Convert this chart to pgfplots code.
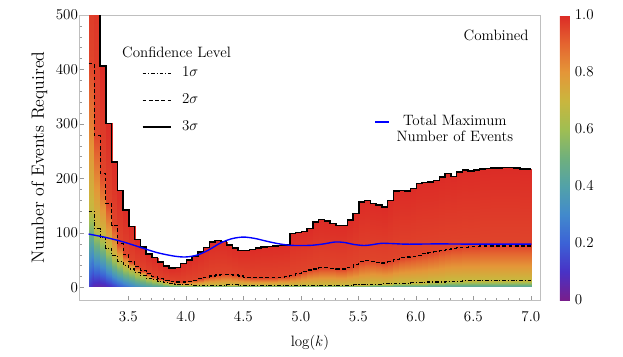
\documentclass[border=0pt]{standalone}
\usepackage{fontspec}
\usepackage{pgfplots}
\usepackage{pgfplotstable}
\pgfplotsset{compat=1.18}
\pgfplotsset{colormap={mrain}{rgb255=(120,30,140) rgb255=(72,50,198) rgb255=(60,98,214) rgb255=(66,138,204) rgb255=(82,162,168) rgb255=(112,176,124) rgb255=(160,190,82) rgb255=(202,182,62) rgb255=(228,150,56) rgb255=(228,100,48) rgb255=(220,42,38)}}

% bins of width 0.05 in log(k): left edge, 1sigma, 2sigma, 3sigma levels, colour value at the bottom
\pgfplotstableread{
xl s1 s2 s3 c0
3.155 140 411 700 0.12
3.205 108 279 700 0.05
3.255 92 209 406 0.04
3.305 72 154 301 0.06
3.355 58 114 230 0.10
3.405 48 80 178 0.15
3.455 40 60 142 0.20
3.505 34 47 112 0.25
3.555 27 38 88 0.30
3.605 22 31 74 0.33
3.655 17 25 61 0.36
3.705 14 20 55 0.38
3.755 11 16 47 0.40
3.805 9 13 39 0.40
3.855 7 11 36 0.40
3.905 6 10 37 0.40
3.955 5 10 44 0.40
4.005 5 11 50 0.40
4.055 4 13 57 0.40
4.105 4 16 65 0.40
4.155 4 19 73 0.40
4.205 4 21 83 0.40
4.255 4 23 86 0.40
4.305 4 24 84 0.40
4.355 5 24 78 0.40
4.405 5 23 72 0.40
4.455 4 21 68 0.40
4.505 4 19 68 0.40
4.555 4 18 70 0.40
4.605 4 18 72 0.40
4.655 4 18 74 0.40
4.705 4 18 75 0.40
4.755 4 18 76 0.40
4.805 4 19 77 0.40
4.855 4 20 78 0.40
4.905 4 22 99 0.40
4.955 4 25 101 0.40
5.005 4 29 103 0.40
5.055 4 32 108 0.40
5.105 4 34 120 0.40
5.155 4 36 125 0.40
5.205 4 36 122 0.40
5.255 4 35 117 0.40
5.305 4 34 114 0.40
5.355 4 34 114 0.40
5.405 4 37 124 0.40
5.455 5 42 136 0.40
5.505 5 47 157 0.40
5.555 5 49 160 0.40
5.605 6 48 154 0.40
5.655 6 46 151 0.40
5.705 7 45 148 0.40
5.755 7 47 160 0.40
5.805 8 51 177 0.40
5.855 8 55 178 0.40
5.905 8 56 177 0.40
5.955 9 57 182 0.40
6.005 9 59 191 0.40
6.055 9 62 193 0.40
6.105 10 64 194 0.40
6.155 10 66 196 0.40
6.205 10 68 203 0.40
6.255 11 70 209 0.40
6.305 11 72 204 0.40
6.355 11 73 212 0.40
6.405 12 74 216 0.40
6.455 12 75 214 0.40
6.505 12 75 216 0.40
6.555 12 76 217 0.40
6.605 12 76 218 0.40
6.655 12 76 219 0.40
6.705 12 76 219 0.40
6.755 12 76 220 0.40
6.805 12 76 220 0.40
6.855 12 76 219 0.40
6.905 12 76 217 0.40
6.955 12 76 217 0.40
7.005 12 76 217 0.40
}\bins

% mesh for the coloured confidence map, built from the bins
\gdef\meshdata{}
\pgfplotsforeachungrouped \i in {0,...,76}{%
  \pgfmathtruncatemacro\ip{\i+1}%
  \pgfplotstablegetelem{\i}{xl}\of\bins\let\xa\pgfplotsretval
  \pgfplotstablegetelem{\ip}{xl}\of\bins\let\xb\pgfplotsretval
  \pgfplotstablegetelem{\i}{s1}\of\bins\let\sa\pgfplotsretval
  \pgfplotstablegetelem{\i}{s2}\of\bins\let\sb\pgfplotsretval
  \pgfplotstablegetelem{\i}{s3}\of\bins\let\sc\pgfplotsretval
  \pgfplotstablegetelem{\i}{c0}\of\bins\let\ca\pgfplotsretval
  \pgfplotstablegetelem{\ip}{c0}\of\bins\let\cb\pgfplotsretval
  \xdef\meshdata{\meshdata (\xa,1) [\ca] (\xa,\sa) [0.683] (\xa,\sb) [0.954] (\xa,\sc) [0.997] (\xb,1) [\cb] (\xb,\sa) [0.683] (\xb,\sb) [0.954] (\xb,\sc) [0.997] }%
}

\begin{document}
\begin{tikzpicture}[font=\fontsize{12}{14}\selectfont]
\path[use as bounding box] (-63.44pt,-44.8pt) rectangle (434.96pt,240pt);
\begin{axis}[
  scale only axis, width=369pt, height=228pt,
  xmin=3.074, xmax=7.084, ymin=-23, ymax=500,
  xtick={3.5,4,4.5,5,5.5,6,6.5,7},
  xticklabels={3.5,4.0,4.5,5.0,5.5,6.0,6.5,7.0},
  ytick={0,100,200,300,400,500},
  minor x tick num=4, minor y tick num=4,
  tick align=inside, tick pos=left,
  major tick length=3.5pt, minor tick length=2pt,
  tick style={gray!80, line width=0.4pt},
  axis line style={gray!50},
  xticklabel style={yshift=-5.4pt},
  yticklabel style={xshift=2.4pt},
  xlabel={$\log(k)$},
  ylabel={Number of Events Required},
  xlabel style={at={(axis description cs:0.5,-0.151)}, anchor=center},
  ylabel style={at={(axis description cs:-0.0867,0.5)}, anchor=center, font=\fontsize{14.2}{17}\selectfont},
  colormap name=mrain,
  point meta min=0, point meta max=1,
  colorbar,
  colorbar style={
    at={(parent axis.north east)}, anchor=north west, xshift=6.9pt,
    scale only axis, width=8pt, height=228pt,
    ytick={0,0.2,0.4,0.6,0.8,1},
    yticklabels={0,0.2,0.4,0.6,0.8,1.0},
    major tick length=0pt, minor tick num=0,
    axis line style={draw=none},
    yticklabel style={xshift=0.5pt},
  },
  legend image code/.code={\draw[#1] (0pt,0pt) -- (23pt,0pt);},
  legend cell align=left,
  legend style={draw=none, fill=none, inner sep=0pt,
    at={(axis description cs:0.135,0.823)}, anchor=north west,
    row sep=9.6pt, column sep=7pt,
    nodes={inner sep=1pt, text height=8pt, text depth=2pt}},
]
\edef\tmp{\noexpand\addplot[surf, shader=interp, point meta=explicit, mesh/ordering=y varies, mesh/rows=4, forget plot] coordinates {\meshdata};}\tmp

\addplot[black, line width=0.9pt, const plot, dash pattern=on 3pt off 1.5pt on 0.8pt off 1.5pt, forget plot] table[x=xl, y=s1] {\bins};
\addplot[black, line width=0.9pt, const plot, dash pattern=on 3pt off 2pt, forget plot] table[x=xl, y=s2] {\bins};
\addplot[black, line width=1.2pt, const plot, forget plot] table[x=xl, y=s3] {\bins};

\addplot[blue, line width=1.1pt, smooth, forget plot] coordinates {
(3.155,98) (3.3,92) (3.45,84) (3.6,74) (3.75,64) (3.9,57.5) (4.0,56) (4.1,59.5) (4.2,69) (4.3,81.5) (4.4,89.5) (4.5,92.5) (4.6,90) (4.7,85) (4.8,80.5) (4.9,77.5) (5.0,77) (5.1,77.5) (5.2,80) (5.3,83.5) (5.38,82.5) (5.46,79) (5.55,77) (5.62,78.5) (5.7,81) (5.8,80.5) (5.9,79.5) (6.0,79.5) (6.2,80) (6.5,79.5) (7.005,79.5)};

\addlegendimage{black, line width=0.9pt, dash pattern=on 3pt off 1.5pt on 0.8pt off 1.5pt}
\addlegendentry{$1\sigma$}
\addlegendimage{black, line width=0.9pt, dash pattern=on 3pt off 2pt}
\addlegendentry{$2\sigma$}
\addlegendimage{black, line width=1.2pt}
\addlegendentry{$3\sigma$}

\node[anchor=west, inner sep=0pt] at (axis description cs:0.0925,0.870) {Confidence Level};
\node[anchor=east, inner sep=0pt] at (axis description cs:0.9746,0.930) {Combined};
\end{axis}

\begin{axis}[
  scale only axis, width=369pt, height=228pt, hide axis,
  xmin=0, xmax=1, ymin=0, ymax=1,
  legend image code/.code={\draw[#1] (0pt,0pt) -- (11pt,0pt);},
  legend cell align=center,
  legend style={draw=none, fill=none, inner sep=0pt,
    at={(axis description cs:0.640,0.653)}, anchor=north west,
    row sep=0.3pt, column sep=4.4pt,
    nodes={inner sep=1pt, text height=8pt, text depth=2.5pt}},
]
\addlegendimage{blue, line width=1.1pt}
\addlegendentry{Total Maximum}
\addlegendimage{empty legend}
\addlegendentry{Number of Events}
\end{axis}
\end{tikzpicture}
\end{document}
